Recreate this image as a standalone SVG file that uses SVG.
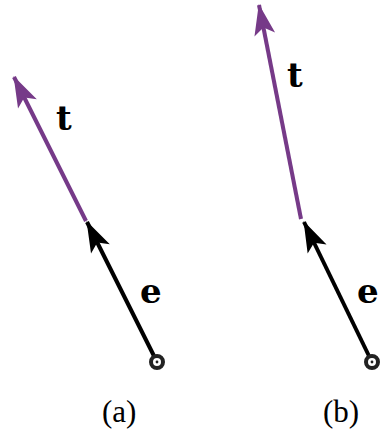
<svg xmlns="http://www.w3.org/2000/svg" width="382" height="433" viewBox="0 0 382 433">
<style>
.e{stroke:#000;stroke-width:4;fill:none}
.t{stroke:#763a88;stroke-width:4;fill:none}
.lbl{font-family:"DejaVu Serif","Liberation Serif",serif;font-weight:bold;font-size:34px;fill:#000}
.cap{font-family:"Liberation Serif","DejaVu Serif",serif;font-size:31px;fill:#000}
.o{fill:none;stroke:#222;stroke-width:4}
</style>
<defs>
<marker id="hk" viewBox="-32 -12 34 24" refX="0" refY="0" markerWidth="34" markerHeight="24" markerUnits="userSpaceOnUse" orient="auto"><path d="M1,0 L-30,-10.5 L-23,0 L-30,10.5 Z" fill="#000"/></marker>
<marker id="hp" viewBox="-32 -12 34 24" refX="0" refY="0" markerWidth="34" markerHeight="24" markerUnits="userSpaceOnUse" orient="auto"><path d="M1,0 L-30,-10.5 L-23,0 L-30,10.5 Z" fill="#763a88"/></marker>
</defs>
<g id="connectors">
<line class="t" x1="86" y1="221" x2="14" y2="77" marker-end="url(#hp)"/>
<line class="e" x1="154" y1="356" x2="87" y2="222" marker-end="url(#hk)"/>
<line class="t" x1="301" y1="219" x2="259" y2="5" marker-end="url(#hp)"/>
<line class="e" x1="369" y1="356" x2="304" y2="222" marker-end="url(#hk)"/>
</g>
<g id="origin-a"><circle class="o" cx="157" cy="362" r="6"/><circle cx="157" cy="362" r="1.4" fill="#222"/></g>
<g id="origin-b"><circle class="o" cx="372" cy="362" r="6"/><circle cx="372" cy="362" r="1.4" fill="#222"/></g>
<g id="labels">
<text class="lbl" x="56" y="130">t</text>
<text class="lbl" x="140" y="303">e</text>
<text class="lbl" x="287" y="87">t</text>
<text class="lbl" x="357" y="303">e</text>
<text class="cap" x="102" y="422">(a)</text>
<text class="cap" x="323" y="422">(b)</text>
</g>
</svg>
